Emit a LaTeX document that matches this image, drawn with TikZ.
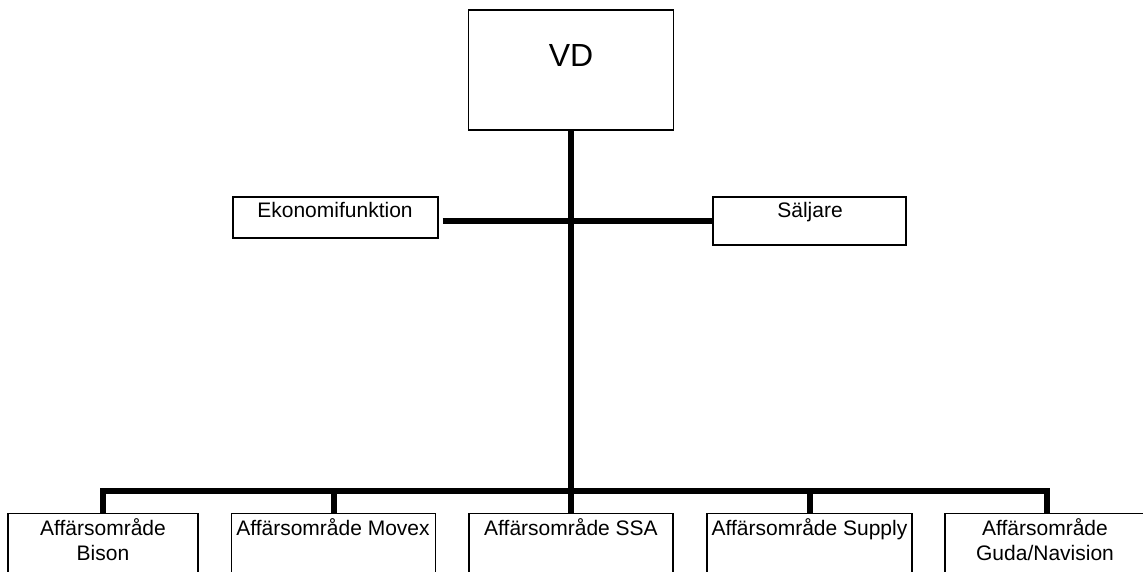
\documentclass[tikz,border=0pt]{standalone}
\usepackage{fontspec}
\setmainfont{Liberation Sans}
\begin{document}
\begin{tikzpicture}[x=1pt,y=-1pt,
  orgbox/.style={draw=black, line width=1.2pt, rectangle, inner sep=0pt},
  topbox/.style={orgbox, line width=1.6pt},
  boxtext/.style={inner sep=0pt, font=\fontsize{21}{25}\selectfont, align=center},
  bigtext/.style={inner sep=0pt, font=\fontsize{32}{38}\selectfont},
  thickline/.style={line width=6pt, draw=black, line join=miter},
  midline/.style={line width=5.5pt, draw=black}]
\useasboundingbox (0,0) rectangle (1143,572);
\clip (0,0) rectangle (1143,572);
% boxes
\node[topbox, minimum width=205pt, minimum height=120pt] (vd) at (571,70) {};
\node[bigtext, anchor=base] (vdt) at (571,67) {VD};
\node[orgbox, minimum width=205pt, minimum height=41pt] (eko) at (335.5,217.5) {};
\node[boxtext, anchor=base] (ekot) at (335,218) {Ekonomifunktion};
\node[orgbox, minimum width=193pt, minimum height=48pt] (salj) at (809.5,221) {};
\node[boxtext, anchor=base] (saljt) at (810,218) {Säljare};
\node[orgbox, minimum width=190pt, minimum height=80pt, anchor=north] (bison) at (103,513) {};
\node[boxtext, anchor=base] (bisont) at (103,560) {Affärsområde\\Bison};
\node[orgbox, minimum width=204pt, minimum height=80pt, anchor=north] (movex) at (333.5,513) {};
\node[boxtext, anchor=base] (movext) at (333,535) {Affärsområde Movex};
\node[orgbox, minimum width=204pt, minimum height=80pt, anchor=north] (ssa) at (571,513) {};
\node[boxtext, anchor=base] (ssat) at (571,535) {Affärsområde SSA};
\node[orgbox, minimum width=205pt, minimum height=80pt, anchor=north] (supply) at (809.5,513) {};
\node[boxtext, anchor=base] (supplyt) at (809.5,535) {Affärsområde Supply};
\node[orgbox, minimum width=203pt, minimum height=80pt, anchor=north] (guda) at (1046.5,513) {};
\node[boxtext, anchor=base] (gudat) at (1045,560) {Affärsområde\\Guda/Navision};
% connectors
\coordinate (mid) at (571,221);
\coordinate (busy) at (571,491);
\draw[thickline] (vd.south) -- (ssa.north);
\draw[midline] ([xshift=4pt]eko.east |- mid) -- (salj.west |- mid);
\draw[thickline] (bison.north) |- (busy) -| (guda.north);
\draw[thickline] (movex.north) -- (movex.north |- busy);
\draw[thickline] (supply.north) -- (supply.north |- busy);
\end{tikzpicture}
\end{document}
